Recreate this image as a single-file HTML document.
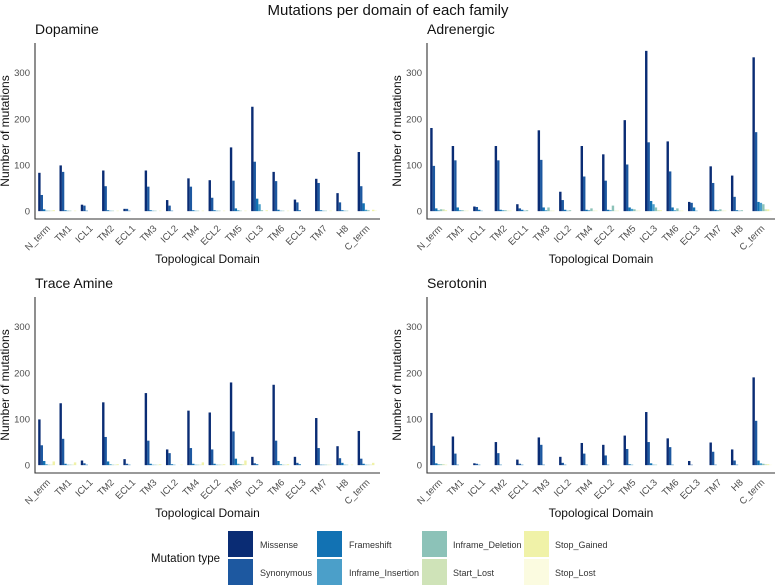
<!DOCTYPE html>
<html><head><meta charset="utf-8"><style>
body{margin:0;background:#fff;width:776px;height:586px;overflow:hidden;font-family:"Liberation Sans",sans-serif}
svg{display:block}
</style></head><body>
<svg id="chart" width="776" height="586" xmlns="http://www.w3.org/2000/svg" font-family="Liberation Sans, sans-serif">
<text x="388" y="15" text-anchor="middle" font-size="15" fill="#111">Mutations per domain of each family</text>
<g id="panels"></g>
<g id="legend"></g>
</svg>
<script>
const categories=["N_term","TM1","ICL1","TM2","ECL1","TM3","ICL2","TM4","ECL2","TM5","ICL3","TM6","ECL3","TM7","H8","C_term"];
const seriesNames=["Missense","Synonymous","Frameshift","Inframe_Insertion","Inframe_Deletion","Start_Lost","Stop_Gained","Stop_Lost"];
const seriesColors=["#0a2c74","#1d58a0","#1272b3","#4b9fc9","#8cc2b8","#cfe3b8","#f0f2a8","#fbfbe0"];
const yTicks=[0,100,200,300];
const familyNames=["Dopamine","Adrenergic","Trace Amine","Serotonin"];
// Dopamine
const dopMissense=[83,99,14,88,5,88,24,71,67,138,226,85,25,70,39,128];
const dopSynonymous=[35,85,12,54,5,53,12,53,29,66,107,65,19,61,19,54];
const dopFrameshift=[4,2,1,2,1,2,1,2,2,6,27,3,2,2,2,17];
const dopInsertion=[1,1,0,1,0,1,0,1,1,2,15,1,0,1,1,3];
const dopDeletion=[1,1,0,1,0,1,0,1,1,1,2,1,0,1,1,2];
const dopStartLost=[1,0,0,0,0,0,0,0,0,0,0,0,0,0,0,0];
const dopStopGained=[2,1,0,1,0,1,0,1,1,1,2,1,0,1,0,3];
const dopStopLost=[0,0,0,0,0,0,0,0,0,0,0,0,0,0,0,2];
// Adrenergic
const adrMissense=[180,141,10,141,15,175,42,141,123,197,347,151,20,97,77,333];
const adrSynonymous=[98,110,9,110,6,111,24,75,66,101,149,86,18,61,31,171];
const adrFrameshift=[6,8,3,3,3,8,3,3,3,8,22,8,8,3,2,20];
const adrInsertion=[2,2,1,2,1,2,1,2,2,5,15,2,1,2,1,18];
const adrDeletion=[4,2,0,2,2,8,2,6,12,4,8,6,0,4,2,15];
const adrStartLost=[4,1,0,1,0,1,0,1,1,1,2,1,0,1,0,4];
const adrStopGained=[2,1,0,1,0,1,0,1,1,1,2,1,0,1,0,4];
const adrStopLost=[0,0,0,0,0,0,0,0,0,0,0,0,0,0,0,2];
// Trace Amine
const traMissense=[99,134,10,136,13,156,34,118,114,179,18,174,18,102,41,74];
const traSynonymous=[43,57,4,61,3,53,26,37,34,73,4,53,5,37,15,14];
const traFrameshift=[9,3,1,8,1,3,2,3,3,14,2,9,2,1,5,3];
const traInsertion=[2,1,0,2,0,1,1,1,1,3,0,2,0,1,1,1];
const traDeletion=[1,1,0,1,0,1,0,1,1,2,0,1,0,1,1,1];
const traStartLost=[1,1,0,1,0,1,0,1,1,2,0,1,0,1,0,1];
const traStopGained=[8,6,0,2,0,2,1,6,2,10,0,2,0,1,1,5];
const traStopLost=[0,0,0,0,0,0,0,0,0,0,0,0,0,0,0,0];
// Serotonin
const serMissense=[113,62,4,50,12,60,18,48,44,64,115,58,9,49,34,190];
const serSynonymous=[42,25,3,26,3,44,5,25,21,35,50,39,1,29,10,96];
const serFrameshift=[4,1,1,1,1,1,1,1,1,2,4,1,0,1,1,10];
const serInsertion=[2,0,0,0,0,0,0,0,0,1,1,0,0,0,0,4];
const serDeletion=[2,0,0,0,0,0,0,0,0,0,1,0,0,0,0,3];
const serStartLost=[2,0,0,0,0,0,0,0,0,0,0,0,0,0,0,2];
const serStopGained=[1,0,0,0,0,0,0,0,0,0,0,0,0,0,0,2];
const serStopLost=[0,0,0,0,0,0,0,0,0,0,0,0,0,0,0,1];

const familyData=[
 [dopMissense,dopSynonymous,dopFrameshift,dopInsertion,dopDeletion,dopStartLost,dopStopGained,dopStopLost],
 [adrMissense,adrSynonymous,adrFrameshift,adrInsertion,adrDeletion,adrStartLost,adrStopGained,adrStopLost],
 [traMissense,traSynonymous,traFrameshift,traInsertion,traDeletion,traStartLost,traStopGained,traStopLost],
 [serMissense,serSynonymous,serFrameshift,serInsertion,serDeletion,serStartLost,serStopGained,serStopLost]
];
const NS="http://www.w3.org/2000/svg";
function mk(tag,attrs,parent){const e=document.createElementNS(NS,tag);for(const k in attrs)e.setAttribute(k,attrs[k]);parent.appendChild(e);return e;}
const panelsG=document.getElementById('panels');
const boxes=[{x0:35,x1:380,top:43,base:219},{x0:427,x1:775,top:43,base:219},{x0:35,x1:380,top:297,base:473},{x0:427,x1:775,top:297,base:473}];
const yMin=-17,yMax=364;
boxes.forEach((b,pi)=>{
 const g=mk('g',{},panelsG);
 
 
 const yS=v=>b.base-(v-yMin)/(yMax-yMin)*(b.base-b.top);
 const unit=(b.x1-b.x0)/16.2;
 const xS=i=>b.x0+(i+1-0.4)*unit;
 const t=mk('text',{x:b.x0,y:b.top-9,'font-size':14,fill:'#111'},g);t.textContent=familyNames[pi];
 
 
 yTicks.forEach(v=>{const tt=mk('text',{x:b.x0-5,y:yS(v)+3.5,'text-anchor':'end','font-size':9.5,fill:'#4d4d4d'},g);tt.textContent=v;
  
  });
 const yt=mk('text',{transform:`translate(${b.x0-26},${(b.top+b.base)/2}) rotate(-90)`,'text-anchor':'middle','font-size':12,fill:'#111'},g);yt.textContent='Number of mutations';
 
 
 const gw=0.9*unit,bw=gw/8;
 familyData[pi].forEach((ser,si)=>{ser.forEach((v,ci)=>{
  if(v<=0)return;
  const x=xS(ci)-gw/2+si*bw;
  const r=mk('rect',{x:x,y:yS(v),width:bw,height:yS(0)-yS(v),fill:seriesColors[si]},g);
  
  
 });});
 const ax=mk('path',{d:`M${b.x0},${b.top} V${b.base} H${b.x1}`,fill:'none',stroke:'#333','stroke-width':1.1},g);
 
 
 categories.forEach((c,ci)=>{const x=xS(ci),y=b.base+10;
  const tl=mk('text',{transform:`translate(${x+3},${y}) rotate(-45)`,'text-anchor':'end','font-size':9.5,fill:'#4d4d4d'},g);tl.textContent=c;
  
  });
 const xt=mk('text',{x:(b.x0+b.x1)/2,y:b.base+44,'text-anchor':'middle','font-size':12,fill:'#111'},g);xt.textContent='Topological Domain';
 
 
});
const lg=document.getElementById('legend');
const lt=mk('text',{x:151,y:562,'font-size':11.5,fill:'#111'},lg);lt.textContent='Mutation type';


const colKey=[228,317,422,524],colLab=[260,349,453,555];
seriesNames.forEach((n,i)=>{const c=Math.floor(i/2),r=i%2;const y=531+r*28;
 const e=mk('g',{},lg);
 
 
 mk('rect',{x:colKey[c],y:y,width:25,height:26,fill:seriesColors[i]},e);
 const tx=mk('text',{x:colLab[c],y:y+17,'font-size':9,fill:'#333'},e);tx.textContent=n;});
</script>
</body></html>
